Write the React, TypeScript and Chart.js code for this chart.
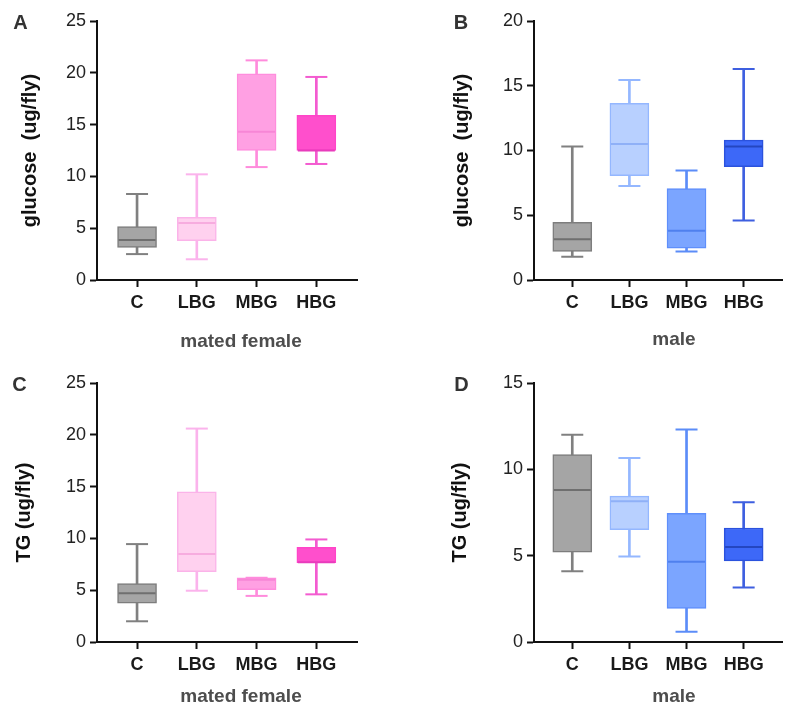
import React, { useEffect, useRef } from "react";
import { Chart, registerables } from "chart.js";

Chart.register(...registerables);

const FONT = "'Liberation Sans', Arial, Helvetica, sans-serif";

const categories = ["C", "LBG", "MBG", "HBG"];

// Panel A: glucose, mated female
const aMin = [2.5, 2.0, 10.9, 11.2];
const aQ1 = [3.15, 3.8, 12.5, 12.5];
const aMed = [3.85, 5.5, 14.3, 12.5];
const aQ3 = [5.15, 6.05, 19.9, 15.9];
const aMax = [8.3, 10.2, 21.2, 19.6];

// Panel B: glucose, male
const bMin = [1.8, 7.25, 2.2, 4.6];
const bQ1 = [2.2, 8.05, 2.45, 8.75];
const bMed = [3.15, 10.5, 3.8, 10.3];
const bQ3 = [4.45, 13.65, 7.05, 10.8];
const bMax = [10.3, 15.45, 8.45, 16.3];

// Panel C: TG, mated female
const cMin = [2.0, 4.95, 4.45, 4.6];
const cQ1 = [3.75, 6.8, 5.05, 7.65];
const cMed = [4.7, 8.5, 6.0, 7.7];
const cQ3 = [5.65, 14.5, 6.2, 9.15];
const cMax = [9.45, 20.6, 6.2, 9.9];

// Panel D: TG, male
const dMin = [4.1, 4.95, 0.6, 3.15];
const dQ1 = [5.2, 6.5, 1.95, 4.7];
const dMed = [8.8, 8.15, 4.65, 5.5];
const dQ3 = [10.85, 8.45, 7.45, 6.6];
const dMax = [12.0, 10.65, 12.3, 8.1];

const pinkFill = ["#a5a5a5", "#ffd1ef", "#ffa0e3", "#ff4fcc"];
const pinkBorder = ["#7d7d7d", "#fbb3e9", "#ff8ddd", "#ff45c8"];
const pinkWhisker = ["#808080", "#fbb3ec", "#ff8bdc", "#f35bd0"];
const pinkMedian = ["#6f6f6f", "#f7acdf", "#f786d6", "#e83cbc"];

const blueFill = ["#a5a5a5", "#b8d0ff", "#7ba5ff", "#3d68f8"];
const blueBorder = ["#7d7d7d", "#94b7ff", "#5f8ffb", "#2b52dd"];
const blueWhisker = ["#808080", "#94b7ff", "#5b8cf8", "#3e5fe0"];
const blueMedian = ["#6f6f6f", "#8fb0f7", "#4f80ee", "#2446c0"];

type PanelProps = {
  left: number;
  top: number;
  width: number;
  height: number;
  yAxisWidth: number;
  padRight: number;
  yMax: number;
  yTitle: string;
  titlePad: number;
  mins: number[];
  q1s: number[];
  meds: number[];
  q3s: number[];
  maxs: number[];
  fills: string[];
  borders: string[];
  whiskers: string[];
  medians: string[];
};

function BoxPanel(p: PanelProps) {
  const ref = useRef<HTMLCanvasElement>(null);
  useEffect(() => {
    const canvas = ref.current;
    if (!canvas) return;
    const pts = (arr: number[]) => arr.map((v, i) => ({ x: i, y: v }));
    const rng = (a: number[], b: number[]) => a.map((v, i) => ({ x: i, y: [v, b[i]] }));
    const axisGrid = {
      display: true,
      drawOnChartArea: false,
      drawTicks: true,
      tickLength: 7,
      tickWidth: 2,
      tickColor: "#111",
      offset: false,
    };
    const axisBorder = { display: true, color: "#111", width: 2 };
    const chart = new Chart(canvas, {
      type: "bar",
      data: {
        datasets: [
          {
            type: "bar",
            data: rng(p.mins, p.maxs) as any,
            backgroundColor: p.whiskers,
            borderWidth: 0,
            barThickness: 2,
            grouped: false,
            order: 3,
          } as any,
          {
            type: "bar",
            data: rng(p.q1s, p.q3s) as any,
            backgroundColor: p.fills,
            borderColor: p.borders,
            borderWidth: 1.5,
            borderSkipped: false,
            barThickness: 39,
            grouped: false,
            order: 2,
          } as any,
          {
            type: "line",
            data: pts(p.maxs),
            showLine: false,
            pointStyle: "line",
            pointRadius: 11,
            pointBorderWidth: 2,
            pointBorderColor: p.whiskers,
            order: 1,
          } as any,
          {
            type: "line",
            data: pts(p.mins),
            showLine: false,
            pointStyle: "line",
            pointRadius: 11,
            pointBorderWidth: 2,
            pointBorderColor: p.whiskers,
            order: 1,
          } as any,
          {
            type: "line",
            data: pts(p.meds),
            showLine: false,
            pointStyle: "line",
            pointRadius: 18.5,
            pointBorderWidth: 2,
            pointBorderColor: p.medians,
            order: 0,
          } as any,
        ],
      },
      options: {
        animation: false,
        responsive: false,
        maintainAspectRatio: false,
        events: [],
        layout: { padding: { left: 0, top: 21, right: p.padRight, bottom: p.height - 280 - 40 } },
        plugins: { legend: { display: false }, tooltip: { enabled: false }, title: { display: false } },
        scales: {
          x: {
            type: "linear",
            min: -0.67,
            max: 3.68,
            offset: false,
            afterBuildTicks: (s: any) => {
              s.ticks = categories.map((_, i) => ({ value: i }));
            },
            afterFit: (s: any) => {
              s.height = 40;
            },
            ticks: {
              callback: (v: any) => categories[v as number] ?? "",
              font: { family: FONT, size: 18, weight: "bold" },
              color: "#1a1a1a",
              padding: 5,
              autoSkip: false,
              maxRotation: 0,
            },
            grid: axisGrid,
            border: axisBorder,
          },
          y: {
            type: "linear",
            min: 0,
            max: p.yMax,
            afterFit: (s: any) => {
              s.width = p.yAxisWidth;
            },
            ticks: {
              stepSize: 5,
              font: { family: FONT, size: 18 },
              color: "#222",
              padding: 4,
            },
            grid: axisGrid,
            border: axisBorder,
            title: {
              display: true,
              text: p.yTitle,
              font: { family: FONT, size: 20, weight: "bold" },
              color: "#111",
              padding: { top: p.titlePad, bottom: 0 },
            },
          },
        },
      } as any,
    });
    return () => chart.destroy();
  }, []);
  return (
    <canvas
      ref={ref}
      width={p.width}
      height={p.height}
      style={{ position: "absolute", left: p.left, top: p.top, width: p.width, height: p.height }}
    />
  );
}

function Label({ x, y, text, size, color }: { x: number; y: number; text: string; size: number; color: string }) {
  return (
    <div
      style={{
        position: "absolute",
        left: x,
        top: y,
        transform: "translate(-50%, -50%)",
        fontFamily: FONT,
        fontWeight: "bold",
        fontSize: size,
        lineHeight: 1,
        color,
        whiteSpace: "nowrap",
      }}
    >
      {text}
    </div>
  );
}

export default function App() {
  return (
    <div
      style={{
        position: "fixed",
        left: 0,
        top: 0,
        width: 786,
        height: 703,
        overflow: "hidden",
        background: "#fff",
      }}
    >
      <BoxPanel
        left={0}
        top={0}
        width={393}
        height={350}
        yAxisWidth={97}
        padRight={36}
        yMax={25}
        yTitle="glucose  (ug/fly)"
        titlePad={18}
        mins={aMin}
        q1s={aQ1}
        meds={aMed}
        q3s={aQ3}
        maxs={aMax}
        fills={pinkFill}
        borders={pinkBorder}
        whiskers={pinkWhisker}
        medians={pinkMedian}
      />
      <BoxPanel
        left={393}
        top={0}
        width={410}
        height={350}
        yAxisWidth={141}
        padRight={9}
        yMax={20}
        yTitle="glucose  (ug/fly)"
        titlePad={57}
        mins={bMin}
        q1s={bQ1}
        meds={bMed}
        q3s={bQ3}
        maxs={bMax}
        fills={blueFill}
        borders={blueBorder}
        whiskers={blueWhisker}
        medians={blueMedian}
      />
      <BoxPanel
        left={0}
        top={362}
        width={393}
        height={341}
        yAxisWidth={97}
        padRight={36}
        yMax={25}
        yTitle="TG (ug/fly)"
        titlePad={12}
        mins={cMin}
        q1s={cQ1}
        meds={cMed}
        q3s={cQ3}
        maxs={cMax}
        fills={pinkFill}
        borders={pinkBorder}
        whiskers={pinkWhisker}
        medians={pinkMedian}
      />
      <BoxPanel
        left={393}
        top={362}
        width={410}
        height={341}
        yAxisWidth={141}
        padRight={9}
        yMax={15}
        yTitle="TG (ug/fly)"
        titlePad={55}
        mins={dMin}
        q1s={dQ1}
        meds={dMed}
        q3s={dQ3}
        maxs={dMax}
        fills={blueFill}
        borders={blueBorder}
        whiskers={blueWhisker}
        medians={blueMedian}
      />
      <Label x={20.5} y={22} text="A" size={20} color="#333" />
      <Label x={461} y={22} text="B" size={20} color="#333" />
      <Label x={19.5} y={383.5} text="C" size={20} color="#333" />
      <Label x={461.5} y={383.5} text="D" size={20} color="#333" />
      <Label x={241} y={340} text="mated female" size={19} color="#4d4d4d" />
      <Label x={674} y={338} text="male" size={19} color="#4d4d4d" />
      <Label x={241} y={695} text="mated female" size={19} color="#4d4d4d" />
      <Label x={674} y={695} text="male" size={19} color="#4d4d4d" />
    </div>
  );
}
